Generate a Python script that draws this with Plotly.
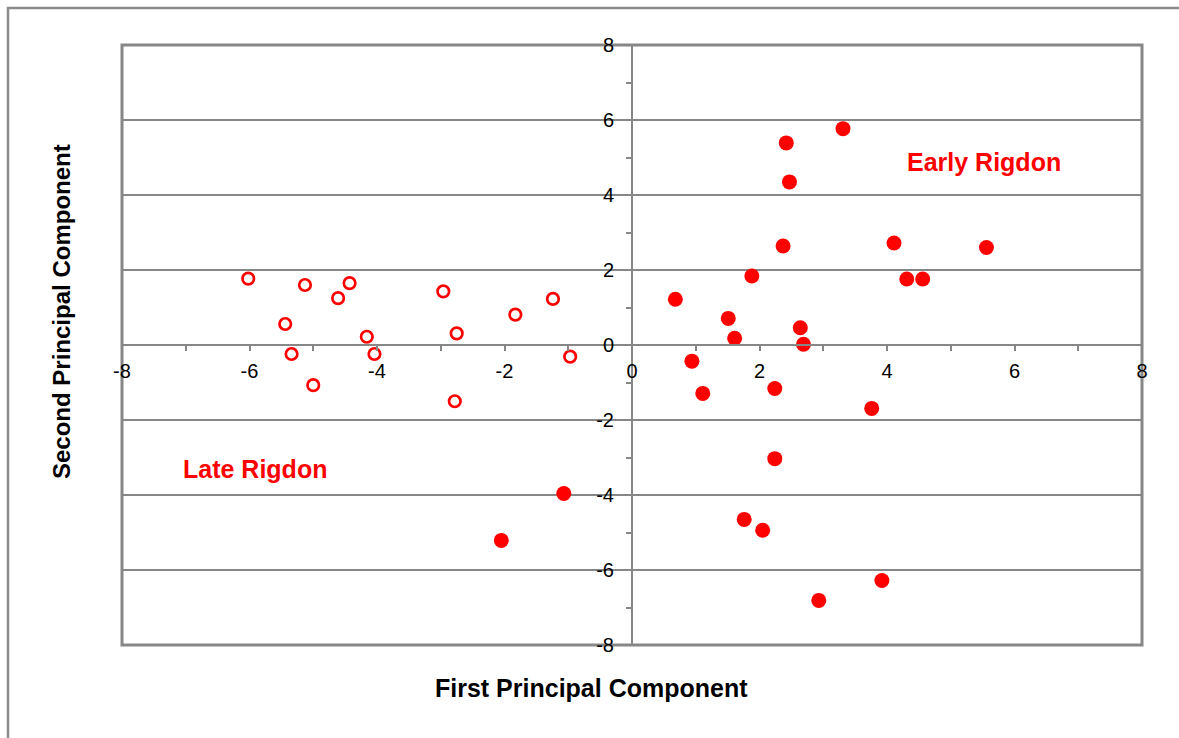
import plotly.graph_objects as go

# Open circles
open_x = [-6.02, -5.13, -4.43, -4.61, -5.44, -5.34, -5.00, -4.16, -4.04, -2.96, -2.75, -2.78, -1.83, -1.24, -0.97]
open_y = [1.77, 1.60, 1.65, 1.25, 0.56, -0.24, -1.07, 0.22, -0.24, 1.43, 0.31, -1.50, 0.81, 1.23, -0.31]

# Filled circles
fill_x = [-1.07, -2.05, 0.68, 1.51, 1.61, 1.88, 0.94, 1.11, 2.24, 2.37, 2.42, 2.47, 3.31, 2.64, 2.69,
          4.11, 4.31, 4.56, 5.56, 3.76, 2.24, 1.76, 2.05, 2.93, 3.92]
fill_y = [-3.96, -5.21, 1.22, 0.71, 0.18, 1.84, -0.43, -1.29, -1.16, 2.64, 5.39, 4.35, 5.77, 0.46, 0.02,
          2.72, 1.76, 1.76, 2.60, -1.69, -3.03, -4.65, -4.94, -6.81, -6.28]

tick_vals = [-8, -6, -4, -2, 0, 2, 4, 6, 8]
tick_text = [str(v) for v in tick_vals]

GRAY = "#878787"
RED = "#FF0000"
FONT = "Liberation Sans, Arial, sans-serif"

fig = go.Figure()
fig.add_trace(go.Scatter(x=open_x, y=open_y, mode="markers", name="Late",
                         marker=dict(symbol="circle-open", size=11.5, color=RED, line=dict(width=2.7, color=RED))))
fig.add_trace(go.Scatter(x=fill_x, y=fill_y, mode="markers", name="Early",
                         marker=dict(symbol="circle", size=15, color=RED, line=dict(width=0))))

axis_common = dict(
    range=[-8, 8], anchor="free", position=0.5, showline=True, linecolor=GRAY, linewidth=2,
    ticks="outside", ticklen=5, tickwidth=2, tickcolor=GRAY,
    tickmode="array", tickvals=tick_vals, ticktext=tick_text,
    tickfont=dict(family=FONT, size=20, color="black"),
    minor=dict(tickmode="linear", dtick=1, ticks="outside", ticklen=5, tickwidth=2, tickcolor=GRAY, showgrid=False),
    zeroline=False,
    fixedrange=True,
)

fig.update_layout(
    width=1179, height=738,
    margin=dict(l=122, r=37, t=45, b=93),
    paper_bgcolor="white", plot_bgcolor="white",
    showlegend=False,
    font=dict(family=FONT, size=20, color="black"),
    xaxis=dict(**axis_common, showgrid=False, ticklabelstandoff=3),
    yaxis=dict(**axis_common, showgrid=True, gridcolor=GRAY, gridwidth=2, ticklabelstandoff=8),
    shapes=[
        dict(type="rect", xref="paper", yref="paper", x0=0, x1=1, y0=0, y1=1,
             line=dict(color=GRAY, width=3), layer="below"),
        dict(type="rect", xref="paper", yref="paper", x0=(8 - 122) / 1020, x1=1.2, y0=-0.3, y1=(645 - 8) / 600,
             line=dict(color="#8c8c8c", width=2.5), layer="below"),
    ],
    annotations=[
        dict(x=5.52, y=4.87, xref="x", yref="y", text="<b>Early Rigdon</b>", showarrow=False,
             xanchor="center", yanchor="middle",
             font=dict(family=FONT, size=25, color=RED)),
        dict(x=-5.91, y=-3.31, xref="x", yref="y", text="<b>Late Rigdon</b>", showarrow=False,
             xanchor="center", yanchor="middle",
             font=dict(family=FONT, size=25, color=RED)),
        dict(x=(591 - 122) / 1020, y=(645 - 688) / 600, xref="paper", yref="paper",
             text="<b>First Principal Component</b>", showarrow=False,
             xanchor="center", yanchor="middle",
             font=dict(family=FONT, size=25, color="black")),
        dict(x=(62 - 122) / 1020, y=(645 - 312) / 600, xref="paper", yref="paper",
             text="<b>Second Principal Component</b>", showarrow=False, textangle=-90,
             xanchor="center", yanchor="middle",
             font=dict(family=FONT, size=24, color="black")),
    ],
)

fig.write_html("out.html")
